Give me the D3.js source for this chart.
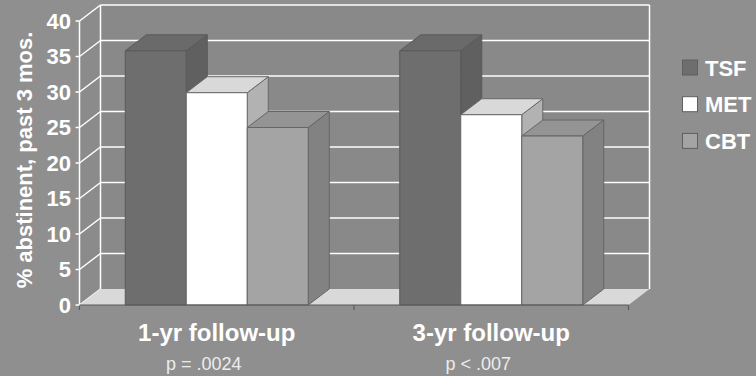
<!DOCTYPE html>
<html>
<head>
<meta charset="utf-8">
<script src="https://cdn.jsdelivr.net/npm/d3@7/dist/d3.min.js"></script>
<style>
  html, body { margin: 0; padding: 0; background: #8f8f8f; }
  svg { display: block; }
  text { font-family: "Liberation Sans", Arial, sans-serif; }
</style>
</head>
<body>
<script>
// Percent abstinent in the past 3 months, by treatment arm and follow-up
const categories = ["1-yr follow-up", "3-yr follow-up"];
const pLabels = ["p = .0024", "p < .007"];
const series = ["TSF", "MET", "CBT"];
const tsfValues = [35.8, 35.8];
const metValues = [29.9, 26.8];
const cbtValues = [25.0, 23.8];
const yTicks = [0, 5, 10, 15, 20, 25, 30, 35, 40];
const yTitle = "% abstinent, past 3 mos.";

const W = 756, H = 376;
const svg = d3.select("body").append("svg").attr("width", W).attr("height", H);
svg.append("rect").attr("width", W).attr("height", H).attr("fill", "#8f8f8f");

// 3D depth offset of the plot box
const DX = 21, DY = -16;

const y = d3.scaleLinear().domain([0, 40]).range([305, 21]);
const x = d3.scaleBand().domain(categories).range([79.5, 628.5]).padding(0);
const xs = d3.scaleBand().domain(series).range([0, x.bandwidth()])
  .paddingInner(0).paddingOuter(0.75);

const values = { TSF: tsfValues, MET: metValues, CBT: cbtValues };
const faces = {
  TSF: { front: "#6e6e6e", top: "#6a6a6a", side: "#606060", stroke: "#5a5a5a" },
  MET: { front: "#ffffff", top: "#d9d9d9", side: "#b2b2b2", stroke: "#6a6a6a" },
  CBT: { front: "#a4a4a4", top: "#949494", side: "#828282", stroke: "#666666" }
};

const x0 = x.range()[0], x1 = x.range()[1];
const yb = y(0), yt = y(40);

// back wall and side wall
svg.append("polygon")
  .attr("points", [[x0 + DX, yt + DY], [x1 + DX, yt + DY], [x1 + DX, yb + DY], [x0 + DX, yb + DY]].join(" "))
  .attr("fill", "#898989");
svg.append("polygon")
  .attr("points", [[x0, yt], [x0 + DX, yt + DY], [x0 + DX, yb + DY], [x0, yb]].join(" "))
  .attr("fill", "#8b8b8b");

// gridlines: along the side wall, then across the back wall
const grid = svg.append("g").attr("stroke", "#ffffff").attr("stroke-width", 1.5).attr("fill", "none");
yTicks.forEach(t => {
  grid.append("line")
    .attr("x1", x0).attr("y1", y(t)).attr("x2", x0 + DX).attr("y2", y(t) + DY);
  if (t > 0) {
    grid.append("line")
      .attr("x1", x0 + DX).attr("y1", y(t) + DY).attr("x2", x1 + DX).attr("y2", y(t) + DY);
  }
});
grid.append("line").attr("x1", x0 + DX).attr("y1", yt + DY).attr("x2", x0 + DX).attr("y2", yb + DY);
grid.append("line").attr("x1", x1 + DX).attr("y1", yt + DY).attr("x2", x1 + DX).attr("y2", yb + DY);
grid.append("line").attr("x1", x0).attr("y1", yt).attr("x2", x0).attr("y2", yb);

// floor
svg.append("polygon")
  .attr("points", [[x0, yb], [x1, yb], [x1 + DX, yb + DY], [x0 + DX, yb + DY]].join(" "))
  .attr("fill", "#d9d9d9");

// bars, left to right so each front face covers the previous side face
const bars = svg.append("g").attr("stroke-width", 1).attr("stroke-linejoin", "round");
categories.forEach((c, ci) => {
  series.forEach(s => {
    const v = values[s][ci];
    const bx = x(c) + xs(s), bw = xs.bandwidth();
    const top = y(v), bot = y(0);
    const f = faces[s];
    bars.append("polygon")
      .attr("points", [[bx + bw, top], [bx + bw + DX, top + DY], [bx + bw + DX, bot + DY], [bx + bw, bot]].join(" "))
      .attr("fill", f.side).attr("stroke", f.stroke);
    bars.append("polygon")
      .attr("points", [[bx, top], [bx + DX, top + DY], [bx + bw + DX, top + DY], [bx + bw, top]].join(" "))
      .attr("fill", f.top).attr("stroke", f.stroke);
    bars.append("rect")
      .attr("x", bx).attr("y", top).attr("width", bw).attr("height", bot - top)
      .attr("fill", f.front).attr("stroke", f.stroke);
  });
});

// front edge of the floor and category ticks
svg.append("line").attr("x1", x0).attr("y1", yb).attr("x2", x1).attr("y2", yb)
  .attr("stroke", "#5a5a5a").attr("stroke-width", 1.2);
[x0, x0 + x.bandwidth(), x1].forEach(px => {
  svg.append("line").attr("x1", px).attr("y1", yb).attr("x2", px).attr("y2", yb + 5)
    .attr("stroke", "#5a5a5a").attr("stroke-width", 1.2);
});

// y axis ticks and labels
const yAxis = svg.append("g");
yTicks.forEach(t => {
  yAxis.append("line").attr("x1", x0 - 4).attr("x2", x0).attr("y1", y(t)).attr("y2", y(t))
    .attr("stroke", "#ffffff").attr("stroke-width", 1.5);
  yAxis.append("text").attr("x", 71).attr("y", y(t)).attr("dy", "0.36em")
    .attr("text-anchor", "end").attr("fill", "#ffffff")
    .attr("font-size", 22).attr("font-weight", "bold").text(t);
});

// y axis title
svg.append("text")
  .attr("transform", "translate(32,160) rotate(-90)")
  .attr("text-anchor", "middle").attr("fill", "#ffffff")
  .attr("font-size", 22).attr("font-weight", "bold").text(yTitle);

// category labels and p-values
categories.forEach((c, i) => {
  const cx = x(c) + x.bandwidth() / 2;
  svg.append("text").attr("x", cx).attr("y", 341)
    .attr("text-anchor", "middle").attr("fill", "#ffffff")
    .attr("font-size", 24).attr("font-weight", "bold").text(c);
  svg.append("text").attr("x", cx - 13).attr("y", 370)
    .attr("text-anchor", "middle").attr("fill", "#ececec")
    .attr("font-size", 18).text(pLabels[i]);
});

// legend
const legend = svg.append("g");
series.forEach((s, i) => {
  const ly = 60 + i * 36.7;
  legend.append("rect").attr("x", 682.5).attr("y", ly).attr("width", 15).attr("height", 15)
    .attr("fill", faces[s].front).attr("stroke", "#5f5f5f").attr("stroke-width", 1);
  legend.append("text").attr("x", 705).attr("y", ly + 15.5)
    .attr("fill", "#ffffff").attr("font-size", 22).attr("font-weight", "bold").text(s);
});
</script>
</body>
</html>
